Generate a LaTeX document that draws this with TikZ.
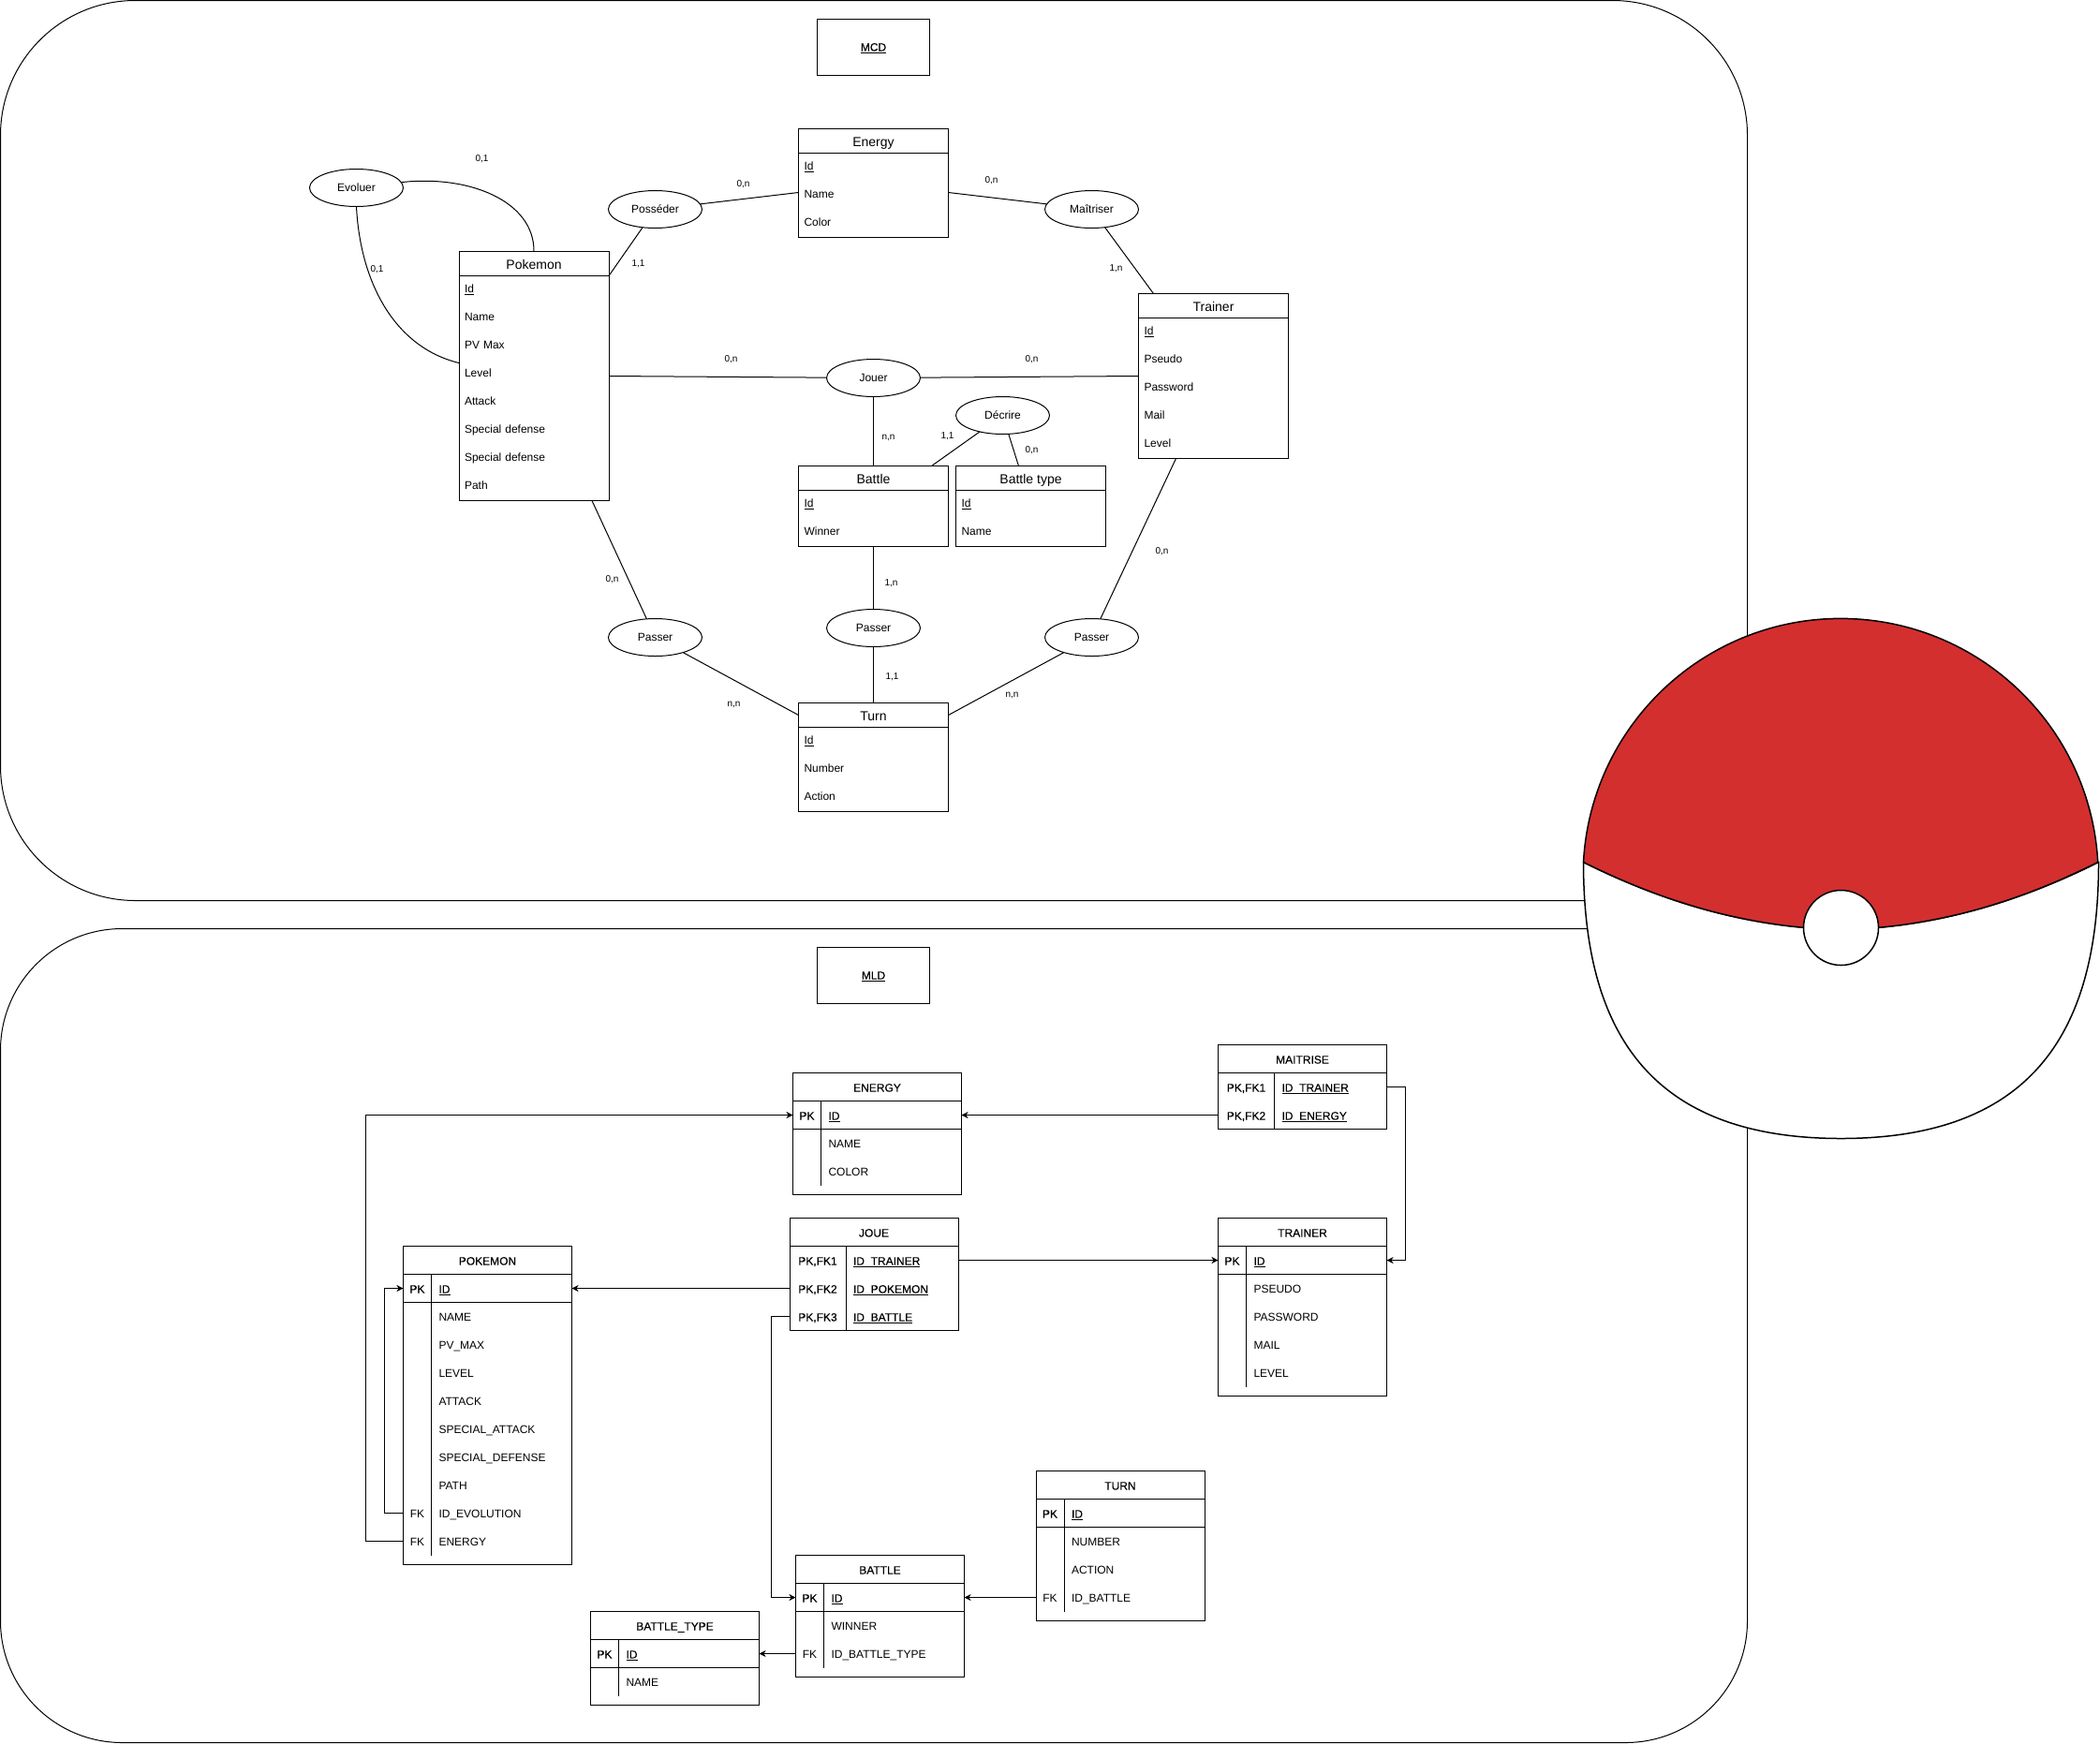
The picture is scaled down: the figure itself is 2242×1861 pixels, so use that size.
\documentclass[tikz,border=0pt]{standalone}
\usepackage{fontspec}
\setmainfont{Liberation Sans}
\newfontfamily\semib[FakeBold=0.25]{Liberation Sans}
\usetikzlibrary{shapes.geometric,arrows.meta,calc}
\definecolor{ballred}{HTML}{D32F2F}
\newcommand{\ulx}[1]{\underline{\smash{#1}}}
\newcommand{\uly}[1]{\underline{\smash{\semib #1}}}
\newcommand{\pk}[1]{{\semib #1}}
\newcommand{\fs}[1]{\fontsize{#1}{#1}\selectfont}
\tikzset{
  line/.style={draw=black,line width=1pt},
  ballline/.style={draw=black,line width=1.5pt},
  frame/.style={line,rectangle,anchor=north west,inner sep=0pt,outer sep=0pt},
  titlebox/.style={line,rectangle,minimum width=120pt,minimum height=60pt,inner sep=0pt,outer sep=0pt,text height=10pt,text depth=2pt,font=\fs{12}},
  assoc/.style={line,ellipse,minimum width=100pt,minimum height=40pt,inner sep=0pt,outer sep=0pt,font=\fs{12}},
  card/.style={inner sep=0pt,font=\fs{10}},
  erhead/.style={line,rectangle,anchor=north west,minimum width=160pt,minimum height=26pt,inner sep=0pt,outer sep=0pt,text height=14pt,text depth=2pt,font=\fs{14}},
  errow/.style={rectangle,anchor=north west,minimum width=160pt,minimum height=30pt,inner ysep=0pt,inner xsep=6pt,outer sep=0pt,text width=148pt,align=left,text height=9pt,text depth=3pt,font=\fs{12}},
  tbhead/.style={line,rectangle,anchor=north west,minimum width=180pt,minimum height=30pt,inner sep=0pt,outer sep=0pt,text height=11pt,text depth=1pt,font=\fs{12}\semib},
  tbrow/.style={rectangle,anchor=north west,minimum width=180pt,minimum height=30pt,inner sep=0pt,outer sep=0pt,text width=180pt,align=left,text height=11pt,text depth=1pt,font=\fs{12}},
  tbkey/.style={inner sep=0pt,outer sep=0pt,text height=11pt,text depth=1pt,font=\fs{12}},
  fk/.style={line,-{Stealth[length=7pt,width=7pt,inset=2pt]}},
}
% name, x, y, height, title, rows
\newcommand{\erent}[6]{%
  \node[frame,minimum width=160pt,minimum height=#4pt] (#1) at (#2,#3) {};
  \node[erhead] (#1-h) at (#2,#3) {#5};
  \foreach \t [count=\i] in {#6} {
    \node[errow] (#1-r\i) at (#2,{#3+26+30*(\i-1)}) {\t};
  }
}
% name, x, y, height, key width, divider length, title, rows, line below first row (1/0)
\newcommand{\tbl}[9]{%
  \node[frame,minimum width=180pt,minimum height=#4pt] (#1) at (#2,#3) {};
  \node[tbhead] (#1-h) at (#2,#3) {#7};
  \foreach \k/\v [count=\i] in {#8} {
    \node[tbrow] (#1-r\i) at (#2,{#3+30+30*(\i-1)}) {\hspace*{\dimexpr#5pt+8pt\relax}\v};
    \ifx\k\empty\else
      \node[tbkey] (#1-k\i) at ({#2+#5/2},{#3+45+30*(\i-1)}) {\k};
    \fi
  }
  \draw[line] ({#2+#5},{#3+30}) -- ++(0,#6);
  \ifnum#9=1 \draw[line] (#2,{#3+60}) -- ++(180,0);\fi
}
\begin{document}
\begin{tikzpicture}[x=1pt,y=-1pt]
\useasboundingbox (0,0) rectangle (2242,1861);
\begin{scope}[shift={(0.5,0.5)}]
% outer frames
\node[frame,rounded corners=144pt,minimum width=1865pt,minimum height=961pt] (mcdframe) at (0,0) {};
\node[frame,rounded corners=130pt,minimum width=1865pt,minimum height=869pt] (mldframe) at (0,991) {};
\node[titlebox] (mcdtitle) at (932,50) {\uly{MCD}};
\node[titlebox] (mldtitle) at (932,1041) {\uly{MLD}};

% MCD entities
\erent{energy}{852}{137}{116}{Energy}{\ulx{Id},Name,Color}
\erent{pokemon}{489.5}{268}{266}{Pokemon}{\ulx{Id},Name,PV Max,Level,Attack,Special defense,Special defense,Path}
\erent{trainer}{1215}{313}{176}{Trainer}{\ulx{Id},Pseudo,Password,Mail,Level}
\erent{battle}{852}{497}{86}{Battle}{\ulx{Id},Winner}
\erent{battletype}{1020}{497}{86}{Battle type}{\ulx{Id},Name}
\erent{turn}{852}{750}{116}{Turn}{\ulx{Id},Number,Action}

% MCD associations
\node[assoc] (evoluer) at (380,200) {Evoluer};
\node[assoc] (posseder) at (699,223) {Posséder};
\node[assoc] (maitriser) at (1165,223) {Maîtriser};
\node[assoc] (jouer) at (932,403) {Jouer};
\node[assoc] (decrire) at (1070,443) {Décrire};
\node[assoc] (passerl) at (699,680) {Passer};
\node[assoc] (passerm) at (932,670) {Passer};
\node[assoc] (passerr) at (1165,680) {Passer};

% MCD connectors
\draw[line] (evoluer.7) .. controls (500,186) and (570,214) .. (pokemon-h.north);
\draw[line] (evoluer.south) .. controls (384,300) and (420,370) .. ([yshift=12pt]pokemon-r4.west);
\draw[line] (posseder) -- (pokemon-h.south east);
\draw[line] (posseder) -- ([yshift=-10pt]energy.west);
\draw[line] ([yshift=-10pt]energy.east) -- (maitriser);
\draw[line] (maitriser) -- ([xshift=16pt]trainer.north west);
\draw[line] (pokemon.east) -- (jouer);
\draw[line] (jouer) -- (trainer.west);
\draw[line] (jouer) -- (battle.north);
\draw[line] (decrire) -- ([xshift=-18pt]battle.north east);
\draw[line] (decrire) -- ([xshift=67pt]battletype.north west);
\draw[line] ([xshift=-18pt]pokemon.south east) -- (passerl);
\draw[line] (passerl) -- (turn-h.west);
\draw[line] (battle.south) -- (passerm);
\draw[line] (passerm) -- (turn.north);
\draw[line] ([xshift=-40pt]trainer.south) -- (passerr);
\draw[line] (passerr) -- (turn-h.east);

% MCD cardinalities
\node[card] (c1) at (514,169) {0,1};
\node[card] (c2) at (402,287) {0,1};
\node[card] (c3) at (681,281) {1,1};
\node[card] (c4) at (793,196) {0,n};
\node[card] (c5) at (780,383) {0,n};
\node[card] (c6) at (948,467) {n,n};
\node[card] (c7) at (1058,192) {0,n};
\node[card] (c8) at (1191,286) {1,n};
\node[card] (c9) at (1101,383) {0,n};
\node[card] (c10) at (1011,465) {1,1};
\node[card] (c11) at (1101,480) {0,n};
\node[card] (c12) at (653,618) {0,n};
\node[card] (c13) at (951,622) {1,n};
\node[card] (c14) at (952,722) {1,1};
\node[card] (c15) at (783,752) {n,n};
\node[card] (c16) at (1080,742) {n,n};
\node[card] (c17) at (1240,588) {0,n};

% MLD tables
\tbl{tenergy}{846}{1145}{130}{30}{90}{ENERGY}{\pk{PK}/\uly{ID},/NAME,/COLOR}{1}
\tbl{tmaitrise}{1300}{1115}{90}{60}{60}{MAITRISE}{{\pk{PK,FK1}}/\uly{ID\_TRAINER},{\pk{PK,FK2}}/\uly{ID\_ENERGY}}{0}
\tbl{tjoue}{842.5}{1300}{120}{60}{90}{JOUE}{{\pk{PK,FK1}}/\uly{ID\_TRAINER},{\pk{PK,FK2}}/\uly{ID\_POKEMON},{\pk{PK,FK3}}/\uly{ID\_BATTLE}}{0}
\tbl{ttrainer}{1300}{1300}{190}{30}{150}{TRAINER}{\pk{PK}/\uly{ID},/PSEUDO,/PASSWORD,/MAIL,/LEVEL}{1}
\tbl{tpokemon}{430}{1330}{340}{30}{300}{POKEMON}{\pk{PK}/\uly{ID},/NAME,/PV\_MAX,/LEVEL,/ATTACK,/SPECIAL\_ATTACK,/SPECIAL\_DEFENSE,/PATH,FK/ID\_EVOLUTION,FK/ENERGY}{1}
\tbl{tturn}{1105.5}{1570}{160}{30}{120}{TURN}{\pk{PK}/\uly{ID},/NUMBER,/ACTION,FK/ID\_BATTLE}{1}
\tbl{tbattle}{849}{1660}{130}{30}{90}{BATTLE}{\pk{PK}/\uly{ID},/WINNER,FK/ID\_BATTLE\_TYPE}{1}
\tbl{tbtype}{630}{1720}{100}{30}{60}{BATTLE\_TYPE}{\pk{PK}/\uly{ID},/NAME}{1}

% MLD connectors
\draw[fk] (tmaitrise-r2.west) -- (tenergy-r1.east);
\draw[fk] (tmaitrise-r1.east) -- ++(20,0) |- (ttrainer-r1.east);
\draw[fk] (tjoue-r1.east) -- (ttrainer-r1.west);
\draw[fk] (tjoue-r2.west) -- (tpokemon-r1.east);
\draw[fk] (tjoue-r3.west) -- ++(-20,0) |- (tbattle-r1.west);
\draw[fk] (tpokemon-r9.west) -- ++(-20,0) |- (tpokemon-r1.west);
\draw[fk] (tpokemon-r10.west) -- ++(-40,0) |- (tenergy-r1.west);
\draw[fk] (tturn-r4.west) -- (tbattle-r1.east);
\draw[fk] (tbattle-r3.west) -- (tbtype-r1.east);

% Pokeball
\draw[ballline,fill=white] (1690,920)
  .. controls (1690,1100) and (1760,1215) .. (1965,1215)
  .. controls (2170,1215) and (2240,1100) .. (2240,920)
  .. controls (2150,965) and (2060,990) .. (1965,992)
  .. controls (1870,990) and (1780,965) .. (1690,920) -- cycle;
\draw[ballline,fill=ballred] (1690,920) arc[start angle=176.9,end angle=3.1,radius=275pt]
  .. controls (2150,965) and (2060,990) .. (1965,992)
  .. controls (1870,990) and (1780,965) .. (1690,920) -- cycle;
\node[ballline,circle,fill=white,minimum size=80pt,inner sep=0pt,outer sep=0pt] (ballbutton) at (1965,990) {};
\end{scope}
\end{tikzpicture}
\end{document}
